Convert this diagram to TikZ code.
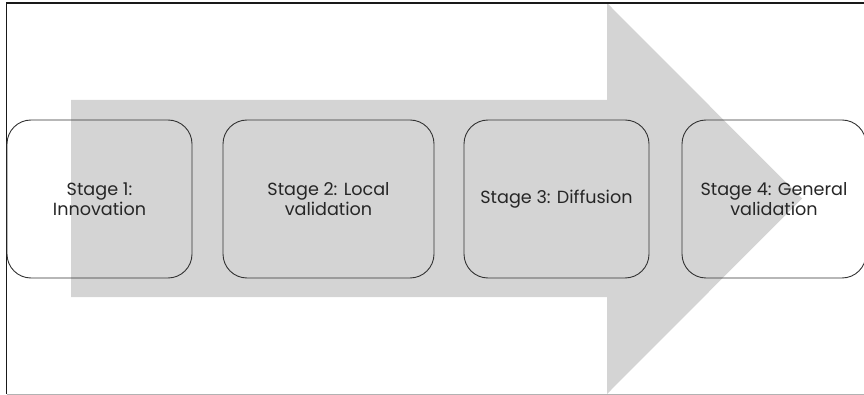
\documentclass[tikz,border=0pt]{standalone}
\usepackage{fontspec}
\setmainfont{Poppins}
\begin{document}
\begin{tikzpicture}[x=1pt,y=-1pt,
  stagebox/.style={draw=black!80, line width=0.9pt, rounded corners=24pt,
    minimum height=158pt, align=center, text=black!85,
    font=\fontsize{17.6}{20.5}\selectfont, inner sep=0pt},
  flowarrow/.style={fill=black!17, draw=none}]
  \useasboundingbox (0,0) rectangle (864,395);
  % broad process arrow behind the stages
  \path[flowarrow] (71,100) -- (607,100) -- (607,3) -- (802,198.5)
    -- (607,394) -- (607,297) -- (71,297) -- cycle;
  % frame
  \draw[black!90, line width=1.3pt] (864,3) -- (6.5,3) -- (6.5,394);
  \draw[black!30, line width=1pt] (6.5,394) -- (864,394);
  % stages
  \node[stagebox, minimum width=185pt] (s1) at (99.5,199) {Stage 1:\\Innovation};
  \node[stagebox, minimum width=211pt] (s2) at (328.5,199) {Stage 2: Local\\validation};
  \node[stagebox, minimum width=185pt] (s3) at (556.5,199) {Stage 3: Diffusion};
  \begin{scope}
    \clip (0,0) rectangle (864,395);
    \node[stagebox, minimum width=184pt] (s4) at (774,199) {Stage 4: General\\validation};
  \end{scope}
\end{tikzpicture}
\end{document}
